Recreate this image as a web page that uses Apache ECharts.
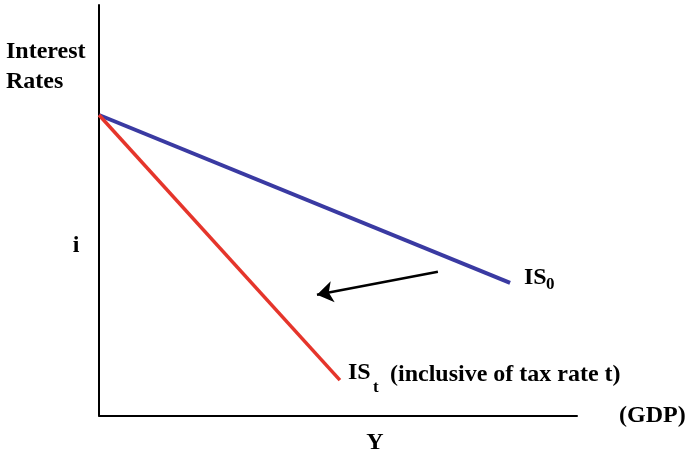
<!DOCTYPE html>
<html>
<head>
<meta charset="utf-8">
<script src="https://cdn.jsdelivr.net/npm/echarts@6/dist/echarts.min.js"></script>
<style>
html,body{margin:0;padding:0;background:#fff;}
#chart{width:687px;height:456px;}
</style>
</head>
<body>
<div id="chart"></div>
<script>
// Curve endpoints (arbitrary units: output Y on x, interest rate on y)
const is0X = [0, 86.0];
const is0Y = [73.2, 32.3];
const istX = [0, 50.4];
const istY = [73.2, 8.6];
// Shift arrow
const arrowFrom = [70.9, 35.0];
const arrowTo = [45.6, 29.4];

const FONT = '"Liberation Serif", "Times New Roman", serif';
const chart = echarts.init(document.getElementById('chart'), null, {renderer: 'canvas'});

function pairs(xs, ys) { return xs.map((x, i) => [x, ys[i]]); }

function txt(text, x, y, size, align) {
  return {
    type: 'text', x: x, y: y,
    style: {
      text: text, fill: '#000',
      font: 'bold ' + size + 'px ' + FONT,
      textAlign: align || 'left', textVerticalAlign: 'middle'
    }
  };
}

chart.setOption({
  animation: false,
  backgroundColor: '#fff',
  grid: {left: 99, right: 110, top: 5, bottom: 40.5, containLabel: false},
  xAxis: {
    type: 'value', min: 0, max: 100,
    axisLine: {show: true, onZero: false, lineStyle: {color: '#000', width: 2}},
    axisTick: {show: false}, axisLabel: {show: false}, splitLine: {show: false}
  },
  yAxis: {
    type: 'value', min: 0, max: 100,
    axisLine: {show: true, onZero: false, lineStyle: {color: '#000', width: 2}},
    axisTick: {show: false}, axisLabel: {show: false}, splitLine: {show: false}
  },
  series: [
    {
      type: 'line', data: pairs(is0X, is0Y), showSymbol: false,
      lineStyle: {color: '#3a3aa2', width: 4}
    },
    {
      type: 'line', data: pairs(istX, istY), showSymbol: false,
      lineStyle: {color: '#e5352b', width: 3.5}
    },
    {
      type: 'lines', coordinateSystem: 'cartesian2d',
      symbol: ['none', 'arrow'], symbolSize: 16,
      lineStyle: {color: '#000', width: 2.5, opacity: 1},
      data: [{coords: [arrowFrom, arrowTo]}]
    }
  ],
  graphic: [
    txt('Interest', 6, 52, 24),
    txt('Rates', 6, 82, 24),
    txt('i', 76, 246, 24, 'center'),
    txt('Y', 375, 443, 24, 'center'),
    txt('(GDP)', 619, 416, 24),
    txt('IS', 524, 278, 24),
    txt('0', 546, 285, 17),
    txt('IS', 348, 373, 24),
    txt('t', 373, 388, 17),
    txt('(inclusive of tax rate t)', 390, 375, 24)
  ]
});
</script>
</body>
</html>
